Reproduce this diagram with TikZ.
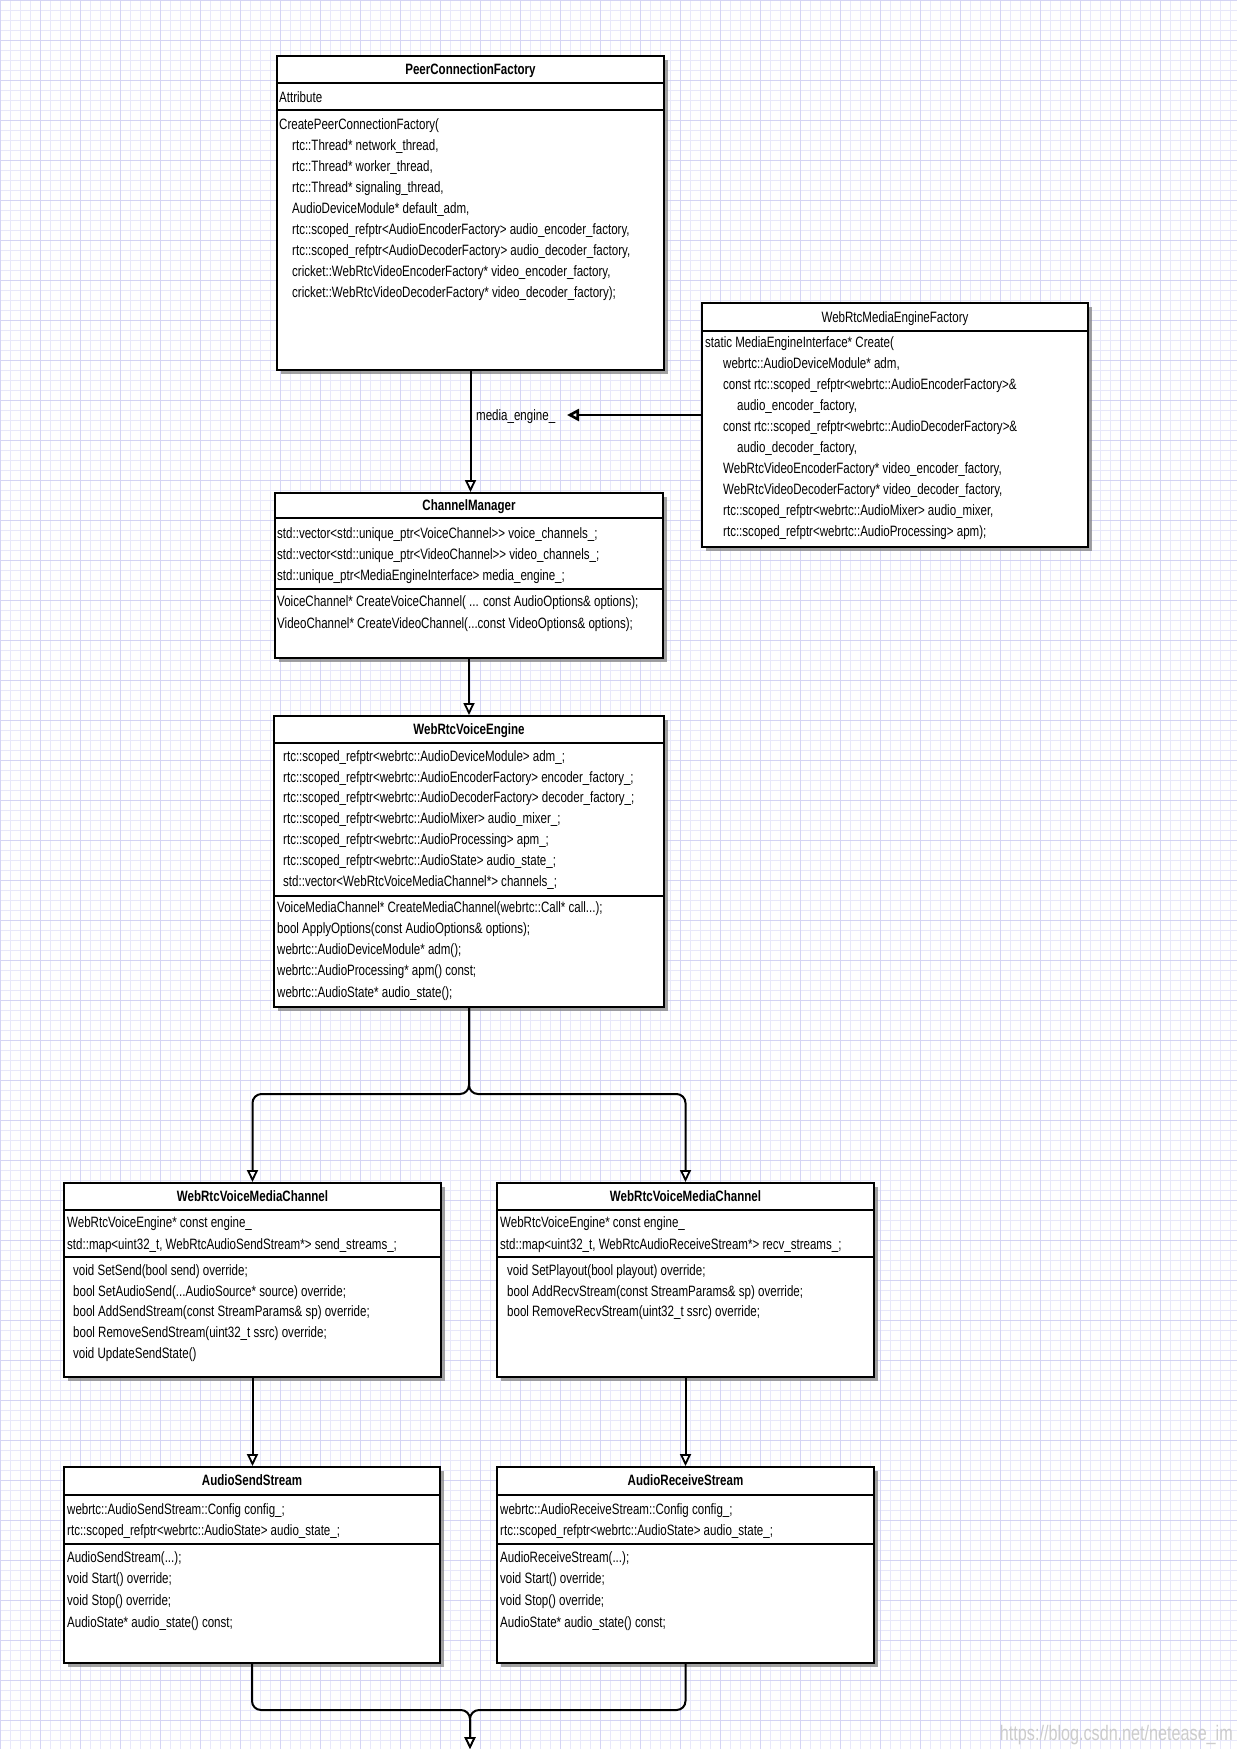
\documentclass[tikz,border=0pt]{standalone}
\usepackage{fontspec}
\setmainfont{Liberation Sans}[FakeStretch=0.77]
\usetikzlibrary{arrows.meta,shadows}
\definecolor{gridminor}{RGB}{232,232,250}
\definecolor{gridmajor}{RGB}{212,212,244}
\definecolor{shadowgray}{RGB}{130,130,130}
\newcommand{\firstl}{\rule{0pt}{12pt}}
\tikzset{
  umlbox/.style={draw=black, line width=2pt, fill=white, inner sep=0pt,
    drop shadow={shadow xshift=4pt, shadow yshift=-4pt, fill=shadowgray, opacity=0.75}},
  secline/.style={line width=2.6pt, black},
  txt/.style={inner sep=0pt, anchor=north west, align=left, font=\fontsize{15}{#1}\selectfont},
  txt/.default=21,
  hdr/.style={inner sep=0pt, anchor=base, font=\fontsize{15}{18}\selectfont\bfseries},
  hdrplain/.style={inner sep=0pt, anchor=base, font=\fontsize{15}{18}\selectfont},
  conn/.style={line width=2pt, black, -{Triangle[length=12pt, width=11pt, fill=white, line width=1.8pt]}},
  wmark/.style={inner sep=0pt, anchor=base east, text=black!20, font=\fontsize{21}{24}\selectfont},
}
\begin{document}
\begin{tikzpicture}[x=1pt,y=-1pt]
\useasboundingbox (0,0) rectangle (1237,1749);
\fill[white] (0,0) rectangle (1237,1749);
% grid
\foreach \gx in {0,10,...,1230} \draw[gridminor, line width=0.7pt] (\gx,0) -- (\gx,1749);
\foreach \gy in {0,10,...,1740} \draw[gridminor, line width=0.7pt] (0,\gy) -- (1237,\gy);
\foreach \gx in {0,40,...,1230} \draw[gridmajor, line width=0.9pt] (\gx,0) -- (\gx,1749);
\foreach \gy in {0,40,...,1740} \draw[gridmajor, line width=0.9pt] (0,\gy) -- (1237,\gy);

% ---------- PeerConnectionFactory
\node[umlbox, minimum width=387pt, minimum height=314pt] (pcf) at (470.5,213) {};
\draw[secline] (277,83) -- (664,83);
\draw[secline] (277,110) -- (664,110);
\node[hdr] (pcfh) at (470.5,74) {PeerConnectionFactory};
\node[txt] (pcfa) at (279,90) {\firstl Attribute};
\node[txt] (pcfm0) at (279,117) {\firstl CreatePeerConnectionFactory(};
\node[txt=21] (pcfm) at (292,138) {\firstl rtc::Thread* network\_thread,\\
rtc::Thread* worker\_thread,\\
rtc::Thread* signaling\_thread,\\
AudioDeviceModule* default\_adm,\\
rtc::scoped\_refptr<AudioEncoderFactory> audio\_encoder\_factory,\\
rtc::scoped\_refptr<AudioDecoderFactory> audio\_decoder\_factory,\\
cricket::WebRtcVideoEncoderFactory* video\_encoder\_factory,\\
cricket::WebRtcVideoDecoderFactory* video\_decoder\_factory);};

% ---------- WebRtcMediaEngineFactory
\node[umlbox, minimum width=386pt, minimum height=244pt] (wmef) at (895,425) {};
\draw[secline] (702,331) -- (1088,331);
\node[hdrplain] (wmefh) at (895,322) {WebRtcMediaEngineFactory};
\node[txt=21] (wmefm) at (705,335) {\firstl static MediaEngineInterface* Create(\\
\hspace*{18pt}webrtc::AudioDeviceModule* adm,\\
\hspace*{18pt}const rtc::scoped\_refptr<webrtc::AudioEncoderFactory>\&\\
\hspace*{32pt}audio\_encoder\_factory,\\
\hspace*{18pt}const rtc::scoped\_refptr<webrtc::AudioDecoderFactory>\&\\
\hspace*{32pt}audio\_decoder\_factory,\\
\hspace*{18pt}WebRtcVideoEncoderFactory* video\_encoder\_factory,\\
\hspace*{18pt}WebRtcVideoDecoderFactory* video\_decoder\_factory,\\
\hspace*{18pt}rtc::scoped\_refptr<webrtc::AudioMixer> audio\_mixer,\\
\hspace*{18pt}rtc::scoped\_refptr<webrtc::AudioProcessing> apm);};

% ---------- ChannelManager
\node[umlbox, minimum width=388pt, minimum height=165pt] (cm) at (469,575.5) {};
\draw[secline] (275,518) -- (663,518);
\draw[secline] (275,589) -- (663,589);
\node[hdr] (cmh) at (469,510) {ChannelManager};
\node[txt=21] (cma) at (277,526) {\firstl std::vector<std::unique\_ptr<VoiceChannel>\kern0pt> voice\_channels\_;\\
std::vector<std::unique\_ptr<VideoChannel>\kern0pt> video\_channels\_;\\
std::unique\_ptr<MediaEngineInterface> media\_engine\_;};
\node[txt=22] (cmm) at (277,594) {\firstl VoiceChannel* CreateVoiceChannel( ... const AudioOptions\& options);\\
VideoChannel* CreateVideoChannel(...const VideoOptions\& options);};

% ---------- WebRtcVoiceEngine
\node[umlbox, minimum width=390pt, minimum height=291pt] (wve) at (469,861.5) {};
\draw[secline] (274,743) -- (664,743);
\draw[secline] (274,896) -- (664,896);
\node[hdr] (wveh) at (469,734) {WebRtcVoiceEngine};
\node[txt=20.8] (wvea) at (283,749) {\firstl rtc::scoped\_refptr<webrtc::AudioDeviceModule> adm\_;\\
rtc::scoped\_refptr<webrtc::AudioEncoderFactory> encoder\_factory\_;\\
rtc::scoped\_refptr<webrtc::AudioDecoderFactory> decoder\_factory\_;\\
rtc::scoped\_refptr<webrtc::AudioMixer> audio\_mixer\_;\\
rtc::scoped\_refptr<webrtc::AudioProcessing> apm\_;\\
rtc::scoped\_refptr<webrtc::AudioState> audio\_state\_;\\
std::vector<WebRtcVoiceMediaChannel*> channels\_;};
\node[txt=21.2] (wvem) at (277,900) {\firstl VoiceMediaChannel* CreateMediaChannel(webrtc::Call* call...);\\
bool ApplyOptions(const AudioOptions\& options);\\
webrtc::AudioDeviceModule* adm();\\
webrtc::AudioProcessing* apm() const;\\
webrtc::AudioState* audio\_state();};

% ---------- WebRtcVoiceMediaChannel (left)
\node[umlbox, minimum width=377pt, minimum height=194pt] (wvmcl) at (252.5,1280) {};
\draw[secline] (64,1210) -- (441,1210);
\draw[secline] (64,1257) -- (441,1257);
\node[hdr] (wvmclh) at (252.5,1201) {WebRtcVoiceMediaChannel};
\node[txt=22.5] (wvmcla) at (67,1215) {\firstl WebRtcVoiceEngine* const engine\_\\
std::map<uint32\_t, WebRtcAudioSendStream*> send\_streams\_;};
\node[txt=20.8] (wvmclm) at (73,1263) {\firstl void SetSend(bool send) override;\\
bool SetAudioSend(...AudioSource* source) override;\\
bool AddSendStream(const StreamParams\& sp) override;\\
bool RemoveSendStream(uint32\_t ssrc) override;\\
void UpdateSendState()};

% ---------- WebRtcVoiceMediaChannel (right)
\node[umlbox, minimum width=377pt, minimum height=194pt] (wvmcr) at (685.5,1280) {};
\draw[secline] (497,1210) -- (874,1210);
\draw[secline] (497,1257) -- (874,1257);
\node[hdr] (wvmcrh) at (685.5,1201) {WebRtcVoiceMediaChannel};
\node[txt=22.5] (wvmcra) at (500,1215) {\firstl WebRtcVoiceEngine* const engine\_\\
std::map<uint32\_t, WebRtcAudioReceiveStream*> recv\_streams\_;};
\node[txt=20.8] (wvmcrm) at (507,1263) {\firstl void SetPlayout(bool playout) override;\\
bool AddRecvStream(const StreamParams\& sp) override;\\
bool RemoveRecvStream(uint32\_t ssrc) override;};

% ---------- AudioSendStream
\node[umlbox, minimum width=376pt, minimum height=196pt] (ass) at (252,1565) {};
\draw[secline] (64,1495) -- (440,1495);
\draw[secline] (64,1544) -- (440,1544);
\node[hdr] (assh) at (252,1485) {AudioSendStream};
\node[txt=21] (assa) at (67,1502) {\firstl webrtc::AudioSendStream::Config config\_;\\
rtc::scoped\_refptr<webrtc::AudioState> audio\_state\_;};
\node[txt=21.7] (assm) at (67,1550) {\firstl AudioSendStream(...);\\
void Start() override;\\
void Stop() override;\\
AudioState* audio\_state() const;};

% ---------- AudioReceiveStream
\node[umlbox, minimum width=377pt, minimum height=196pt] (ars) at (685.5,1565) {};
\draw[secline] (497,1495) -- (874,1495);
\draw[secline] (497,1544) -- (874,1544);
\node[hdr] (arsh) at (685.5,1485) {AudioReceiveStream};
\node[txt=21] (arsa) at (500,1502) {\firstl webrtc::AudioReceiveStream::Config config\_;\\
rtc::scoped\_refptr<webrtc::AudioState> audio\_state\_;};
\node[txt=21.7] (arsm) at (500,1550) {\firstl AudioReceiveStream(...);\\
void Start() override;\\
void Stop() override;\\
AudioState* audio\_state() const;};

% ---------- connectors
\draw[conn] (pcf.south) -- (pcf.south |- cm.north);
\coordinate (metip) at (567,415);
\draw[line width=2.4pt, black, -{Triangle[length=12pt, width=12pt, fill=white, line width=2.6pt]}] (wmef.west |- metip) -- (metip);
\node[inner sep=0pt, anchor=base west, font=\fontsize{15}{18}\selectfont] (mel) at (476,420) {media\_engine\_};
\draw[conn] (cm.south) -- (cm.south |- wve.north);

\coordinate (fork) at (469,1094);
\draw[conn, rounded corners=9pt] (wve.south) |- (wvmcl.north |- fork) -- (wvmcl.north);
\draw[conn, rounded corners=9pt] (wve.south) |- (wvmcr.north |- fork) -- (wvmcr.north);

\draw[conn] (wvmcl.south) -- (wvmcl.south |- ass.north);
\draw[conn] (wvmcr.south) -- (wvmcr.south |- ars.north);

\coordinate (outend) at (470,1749);
\coordinate (merge) at (470,1710);
\draw[conn, rounded corners=9pt] (ass.south) |- (merge) -- (outend);
\draw[conn, rounded corners=9pt] (ars.south) |- (merge) -- (outend);

% watermark
\node[wmark] (wm) at (1233,1740) {https://blog.csdn.net/netease\_im};
\end{tikzpicture}
\end{document}
